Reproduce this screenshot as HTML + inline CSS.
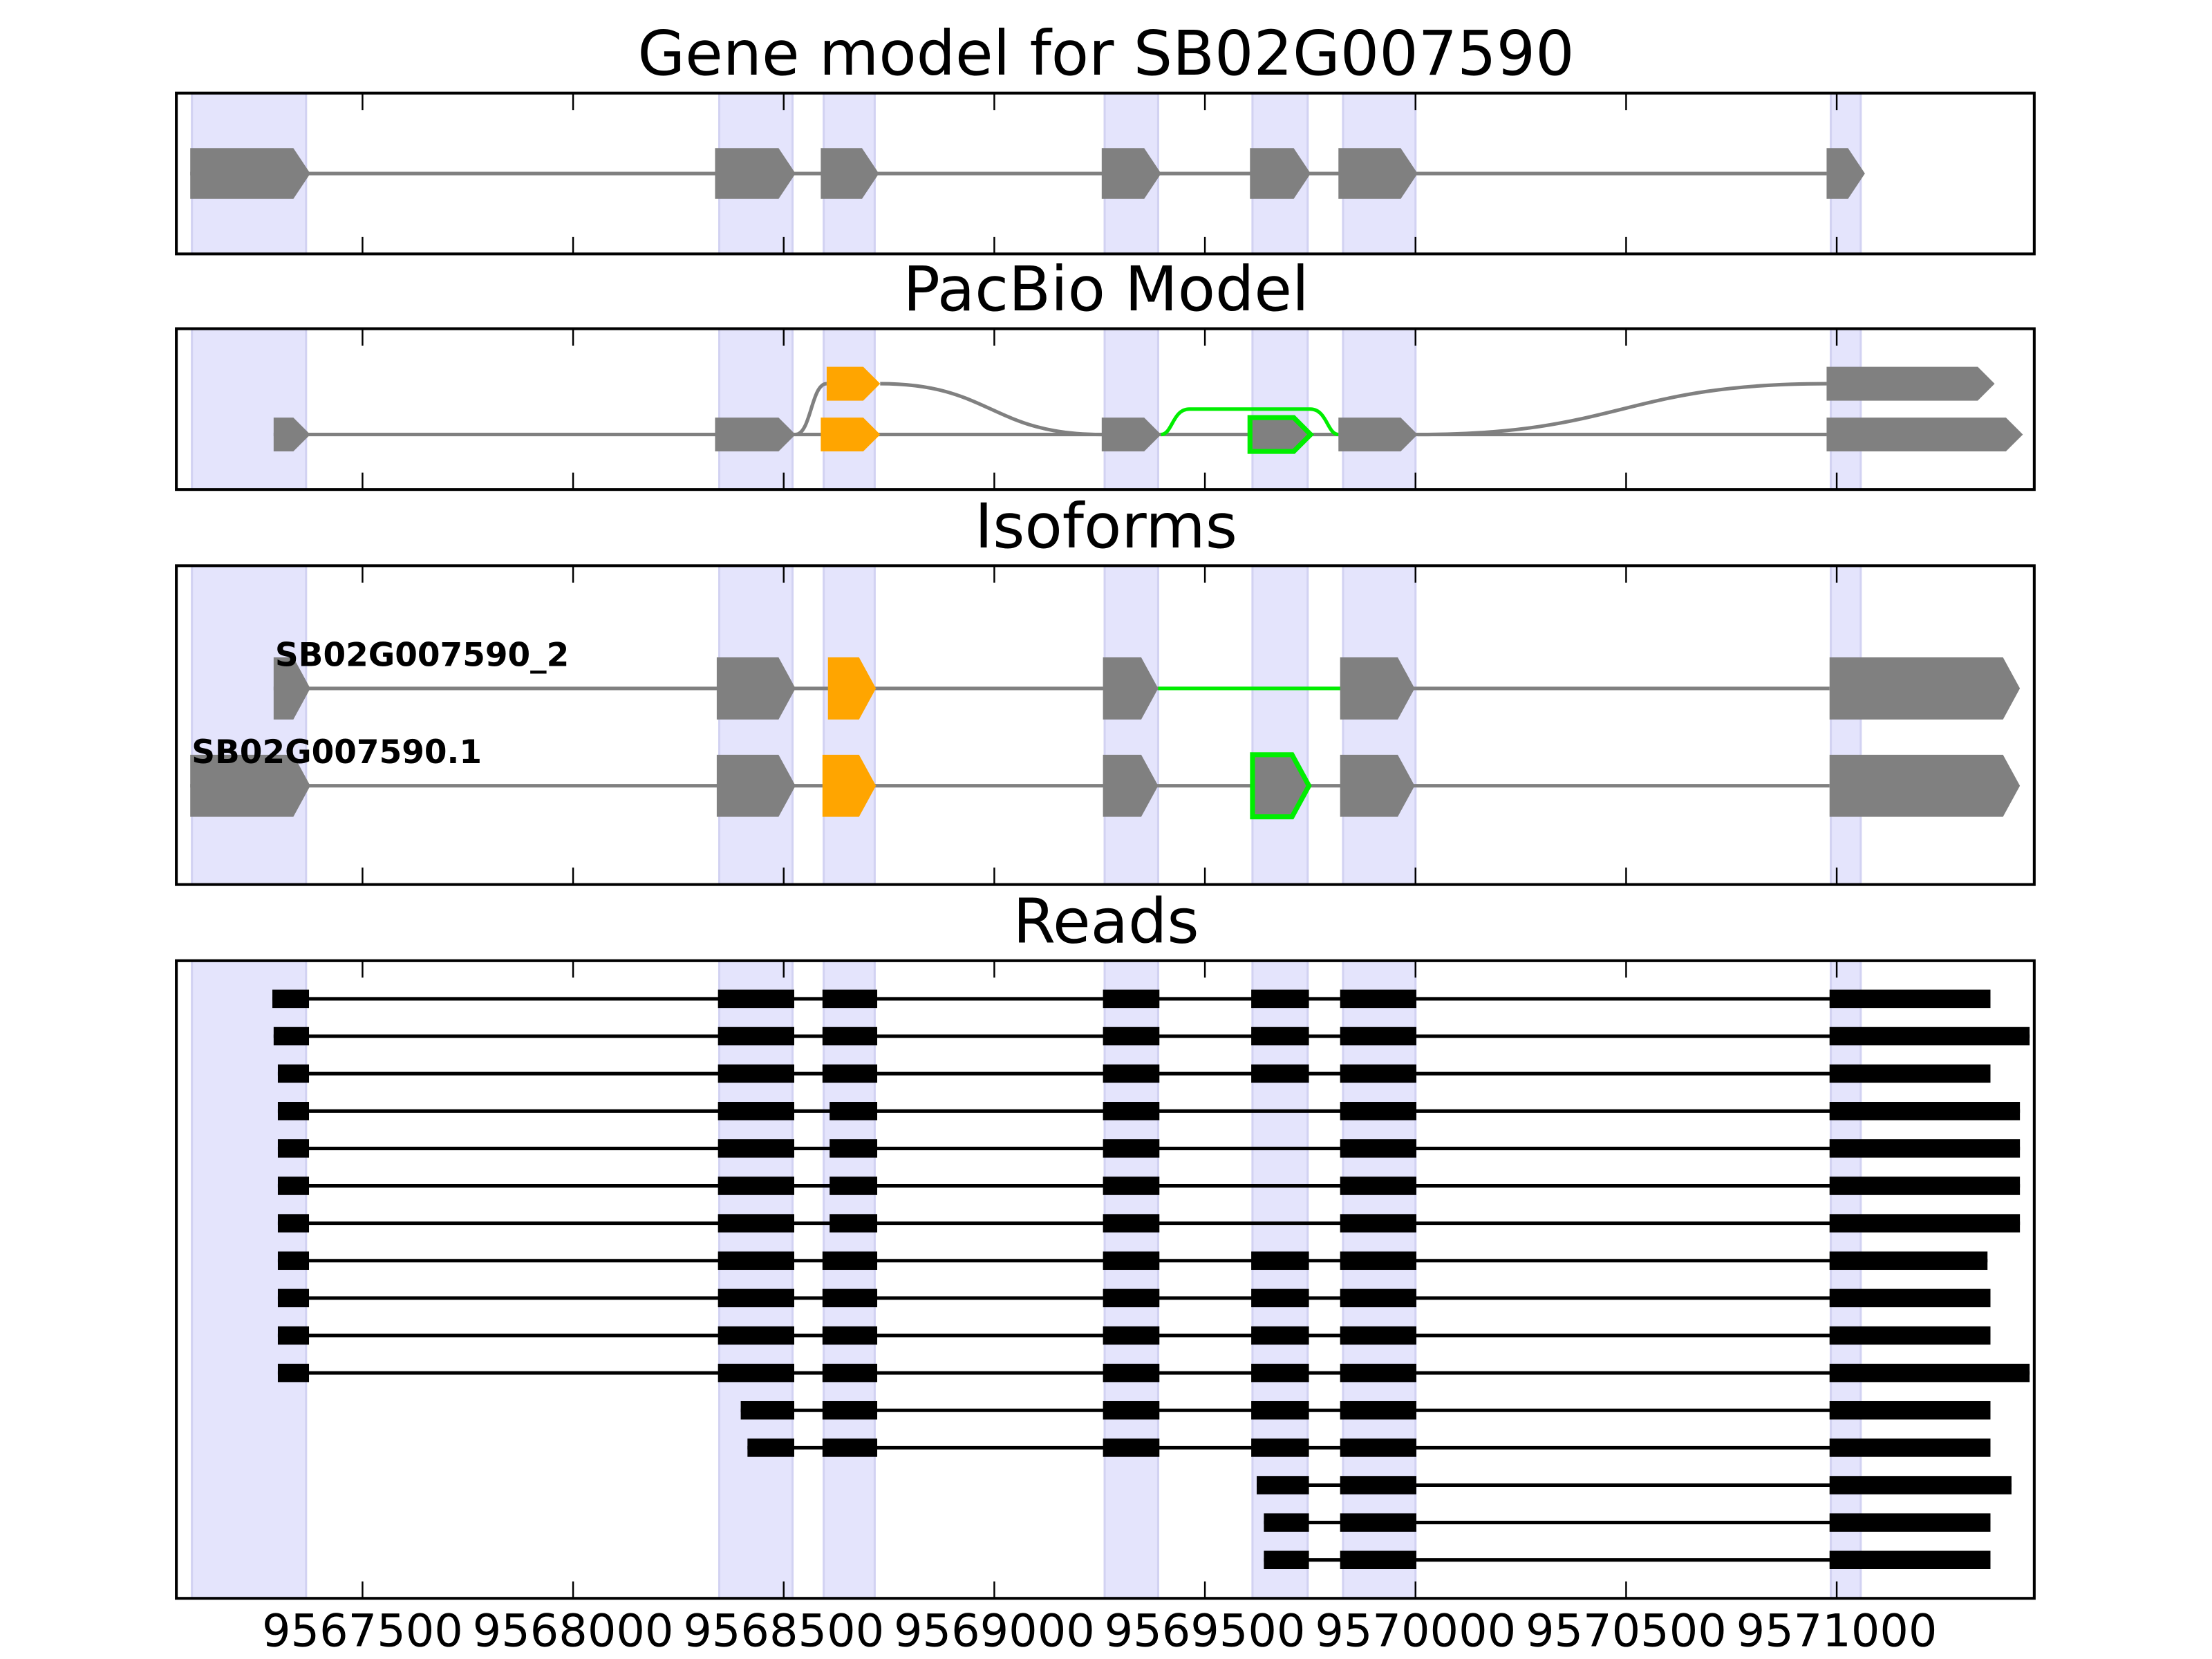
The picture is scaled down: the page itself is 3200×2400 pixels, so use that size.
<!DOCTYPE html>
<html><head><meta charset="utf-8"><style>
html,body{margin:0;padding:0;background:#fff;}
svg{display:block;font-family:"DejaVu Sans","Liberation Sans",sans-serif;}
</style></head><body>
<svg id="fig" width="3200" height="2400" viewBox="0 0 1568 1176" xmlns="http://www.w3.org/2000/svg"></svg>
<script>
// ---- data (genomic coordinates) ----
const tickValues = [9567500, 9568000, 9568500, 9569000, 9569500, 9570000, 9570500, 9571000];
const tickLabels = ["9567500","9568000","9568500","9569000","9569500","9570000","9570500","9571000"];
const shadedRegions = [[9567095,9567366],[9568347,9568521],[9568595,9568716],[9569262,9569389],[9569613,9569744],[9569828,9570000],[9570986,9571057]];
const geneModelExons = [[9567091,9567376],[9568337,9568528],[9568588,9568726],[9569255,9569396],[9569607,9569751],[9569817,9570005],[9570976,9571067]];
const pacbioLowerExons = [[9567289,9567376,"g"],[9568337,9568528,"g"],[9568588,9568729,"o"],[9569255,9569396,"g"],[9569607,9569751,"e"],[9569817,9570005,"g"],[9570976,9571442,"g"]];
const pacbioUpperExons = [[9568602,9568729,"o"],[9570976,9571375,"g"]];
const iso2Exons = [[9567289,9567376,"g"],[9568341,9568528,"g"],[9568605,9568719,"o"],[9569258,9569389,"g"],[9569821,9569998,"g"],[9570983,9571435,"g"]];
const iso1Exons = [[9567091,9567376,"g"],[9568341,9568528,"g"],[9568592,9568719,"o"],[9569258,9569389,"g"],[9569613,9569747,"e"],[9569821,9569998,"g"],[9570983,9571435,"g"]];
const isoNames = ["SB02G007590_2","SB02G007590.1"];
const readStarts = [9567286,9567289,9567299,9567299,9567299,9567299,9567299,9567299,9567299,9567299,9567299,9568398,9568414,9569623,9569640,9569640];
const readEnds = [9571365,9571458,9571365,9571435,9571435,9571435,9571435,9571358,9571365,9571365,9571458,9571365,9571365,9571415,9571365,9571365];
const readSkipsExon5 = [0,0,0,1,1,1,1,0,0,0,0,0,0,0,0,0];
const readExonBounds = [[9567373,9568344],[9568525,9568592],[9568722,9569258],[9569392,9569610],[9569747,9569821],[9570002,9570983]];
const readExon3AltStart = [0,0,0,1,1,1,1,0,0,0,0,0,0,0,0,0];

// ---- axes ----
const XL=125, XR=1442, GMIN=9567058, GMAX=9571469;
function X(g){return XL+(g-GMIN)/(GMAX-GMIN)*(XR-XL);}
const NS="http://www.w3.org/2000/svg";
const svg=document.getElementById('fig');
function el(tag,attrs,parent){const e=document.createElementNS(NS,tag);for(const k in attrs)e.setAttribute(k,attrs[k]);(parent||svg).appendChild(e);return e;}
const panels=[{t:"Gene model for SB02G007590",y0:66,y1:180,ty:53},{t:"PacBio Model",y0:233,y1:347,ty:220},{t:"Isoforms",y0:401,y1:627,ty:388},{t:"Reads",y0:681,y1:1133,ty:668}];
const names=["gene-model-panel","pacbio-panel","isoforms-panel","reads-panel"];
const groups=[];
panels.forEach((p,i)=>{
  const g=el('g',{});
  
  
  groups.push(g);
  const t=el('text',{x:784,y:p.ty,'font-size':43.5,'text-anchor':'middle'},g);
  t.textContent=p.t;
  
  
  shadedRegions.forEach(r=>{
    const s=el('rect',{x:X(r[0]),y:p.y0,width:X(r[1])-X(r[0]),height:p.y1-p.y0,fill:'#e4e4fc',stroke:'#d2d2f2','stroke-width':1.5},g);
    
    
  });
});
function exon(g,a,b,yc,h,kind){
  const x1=X(a),x2=X(b);const taper=Math.min(12,(x2-x1)*0.5);
  let fill='#808080',stroke='none',sw=0;
  if(kind==='o')fill='#ffa500';
  if(kind==='e'){stroke='#00ee00';sw=3.5;}
  const pts=`${x1},${yc-h} ${x2-taper},${yc-h} ${x2},${yc} ${x2-taper},${yc+h} ${x1},${yc+h}`;
  const e=el('polygon',{points:pts,fill:fill,stroke:stroke,'stroke-width':sw},g);
  
  
}
function line(g,x1,y1,x2,y2,c,w){const l=el('line',{x1:x1,y1:y1,x2:x2,y2:y2,stroke:c,'stroke-width':w},g);}
// panel 1
{const g=groups[0],yc=123;
 line(g,X(geneModelExons[0][0]),yc,X(geneModelExons[geneModelExons.length-1][0]),yc,'#808080',2.5);
 geneModelExons.forEach(e=>exon(g,e[0],e[1],yc,18));}
// panel 2
{const g=groups[1],yl=308,yu=272;
 line(g,X(pacbioLowerExons[0][0]),yl,X(pacbioLowerExons[6][0]),yl,'#808080',2.5);
 function curve(a,ya,b,yb,c){const xa=X(a),xb=X(b),m=(xa+xb)/2;const p=el('path',{d:`M${xa},${ya} C${m},${ya} ${m},${yb} ${xb},${yb}`,fill:'none',stroke:c,'stroke-width':2.5},g);}
 curve(pacbioLowerExons[1][1],yl,pacbioUpperExons[0][0],yu,'#808080');
 curve(pacbioUpperExons[0][1],yu,pacbioLowerExons[3][0],yl,'#808080');
 curve(pacbioLowerExons[5][1],yl,pacbioUpperExons[1][0],yu,'#808080');
 const gx1=X(pacbioLowerExons[3][1]),gx2=X(pacbioLowerExons[5][0]);
 const gp=el('path',{d:`M${gx1},${yl} C${gx1+8},${yl} ${gx1+8},290 ${gx1+20},290 L${gx2-20},290 C${gx2-8},290 ${gx2-8},${yl} ${gx2},${yl}`,fill:'none',stroke:'#00ee00','stroke-width':2.5},g);
 
 pacbioLowerExons.forEach(e=>exon(g,e[0],e[1],yl,12,e[2]));
 pacbioUpperExons.forEach(e=>exon(g,e[0],e[1],yu,12,e[2]));}
// panel 3
{const g=groups[2];
 [[iso2Exons,488],[iso1Exons,557]].forEach((r,i)=>{
  const ex=r[0],yc=r[1];
  line(g,X(ex[0][0]),yc,X(ex[ex.length-1][0]),yc,'#808080',2.5);
  if(i===0)line(g,X(ex[3][1]),yc,X(ex[4][0]),yc,'#00ee00',2.5);
  ex.forEach(e=>exon(g,e[0],e[1],yc,22,e[2]));
  const t=el('text',{x:X(ex[0][0])+1,y:yc-16,'font-size':23,'font-weight':'bold'},g);
  t.textContent=isoNames[i];
  
  
 });}
// panel 4
{const g=groups[3];
 readStarts.forEach((s,i)=>{
  const yc=708+i*26.52,e=readEnds[i];
  const bounds=readExonBounds.filter(b=>b[0]>s);
  let blocks=[];let cur=s;
  bounds.forEach(b=>{blocks.push([cur,b[0]]);cur=b[1];});
  blocks.push([cur,e]);
  if(readExon3AltStart[i])blocks=blocks.map(b=>b[0]===9568592?[9568609,b[1]]:b);
  if(readSkipsExon5[i])blocks=blocks.filter(b=>!(b[0]===9569610));
  line(g,X(s),yc,X(e),yc,'#000',2.5);
  blocks.forEach(b=>{const r=el('rect',{x:X(b[0]),y:yc-6.5,width:X(b[1])-X(b[0]),height:13,fill:'#000'},g);});
 });}
// frames & ticks
panels.forEach((p,i)=>{
  const g=groups[i];
  tickValues.forEach(v=>{line(g,X(v),p.y0,X(v),p.y0+12,'#000',1.2);line(g,X(v),p.y1,X(v),p.y1-12,'#000',1.2);});
  const f=el('rect',{x:XL,y:p.y0,width:XR-XL,height:p.y1-p.y0,fill:'none',stroke:'#000','stroke-width':2},g);
  
});
tickValues.forEach((v,i)=>{
  const t=el('text',{x:X(v),y:1167,'font-size':32,'text-anchor':'middle'});
  t.textContent=tickLabels[i];
  
  
});
</script>
</body></html>
